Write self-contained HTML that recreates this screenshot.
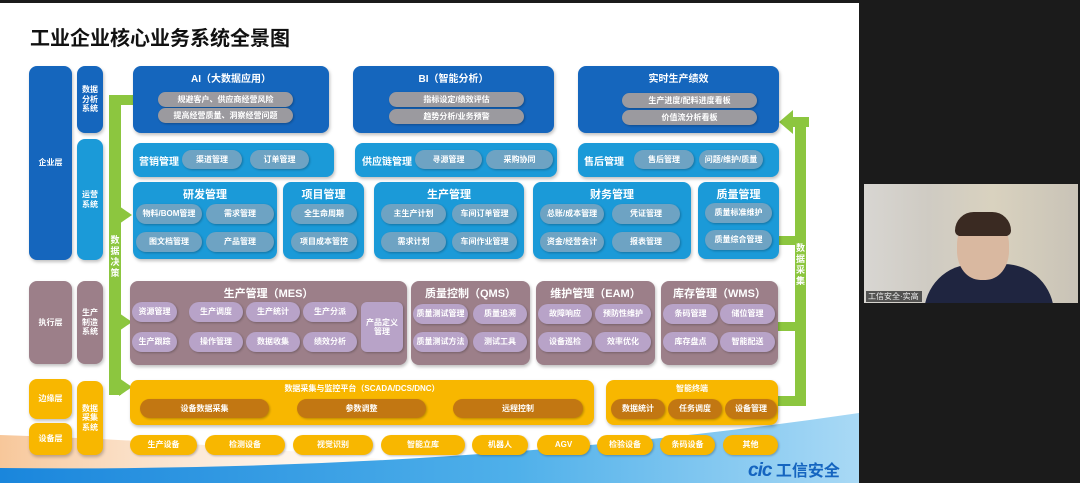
<!DOCTYPE html>
<html><head><meta charset="utf-8"><style>
*{margin:0;padding:0;box-sizing:border-box}
body{width:1080px;height:483px;overflow:hidden;background:#1b1b1b;font-family:"Liberation Sans","Noto Sans CJK SC",sans-serif;position:relative}
.a{position:absolute}
.b{position:absolute;border-radius:8px;box-shadow:1px 2px 3px rgba(0,0,0,.25)}
.p{position:absolute;border-radius:10px;color:#fff;font-size:8px;display:flex;align-items:center;justify-content:center;font-weight:bold;box-shadow:1px 1px 2px rgba(0,0,0,.25);text-align:center;line-height:1.15}
.t{position:absolute;color:#fff;font-weight:bold;font-size:10px;text-align:center}
.v{position:absolute;color:#fff;font-size:8px;font-weight:bold;display:flex;align-items:center;justify-content:center;text-align:center;line-height:1.2}
.db{background:#1566bd}.lb{background:#1b9ad8}.mv{background:#9c7f89}.yl{background:#f8b700}
.gp{background:#9b9a9f}.bp{background:#6ea3c3}.lp{background:#b8a3c8;color:#fff}.op{background:#c27712}.yp{background:#f8b700}
.g{position:absolute;background:#8cc63f}
</style></head><body>
<div class="a" style="left:0;top:3px;width:859px;height:480px;background:#fff;overflow:hidden">
<svg class="a" style="left:0;top:0" width="859" height="480">
<defs><linearGradient id="w" x1="0" y1="0" x2="1" y2="0"><stop offset="0" stop-color="#1a86dc"/><stop offset="0.6" stop-color="#4fb0ea"/><stop offset="1" stop-color="#a9d9f5"/></linearGradient>
<linearGradient id="o" x1="0" y1="0" x2="1" y2="0"><stop offset="0" stop-color="#f7c79a"/><stop offset="1" stop-color="#fff" stop-opacity="0"/></linearGradient></defs>
<path d="M0,432 Q250,440 520,470 L0,480Z" fill="url(#o)"/>
<path d="M0,465 Q450,470 859,410 L859,480 L0,480Z" fill="url(#w)"/>
</svg>
<div class="a" style="left:30px;top:19px;font-size:20px;font-weight:bold;color:#111">工业企业核心业务系统全景图</div>
<div class="a" style="left:748px;top:454px;font-size:19px;font-weight:bold;color:#1565c0;font-style:italic;letter-spacing:-1px">cic<span style="font-style:normal;font-size:16px;letter-spacing:0"> 工信安全</span></div>
</div>

<!-- left labels -->
<div class="b db v" style="left:29px;top:66px;width:43px;height:194px">企业层</div>
<div class="b db v" style="left:77px;top:66px;width:26px;height:67px">数据<br>分析<br>系统</div>
<div class="b lb v" style="left:77px;top:139px;width:26px;height:121px">运营<br>系统</div>
<div class="b mv v" style="left:29px;top:281px;width:43px;height:83px">执行层</div>
<div class="b mv v" style="left:77px;top:281px;width:26px;height:83px">生产<br>制造<br>系统</div>
<div class="b yl v" style="left:29px;top:379px;width:43px;height:40px">边缘层</div>
<div class="b yl v" style="left:29px;top:423px;width:43px;height:32px">设备层</div>
<div class="b yl v" style="left:77px;top:381px;width:26px;height:74px">数据<br>采集<br>系统</div>

<!-- left green -->
<div class="g" style="left:109px;top:95px;width:12px;height:300px"></div>
<div class="g" style="left:109px;top:95px;width:24px;height:10px"></div>
<svg class="a" style="left:119px;top:200px" width="16" height="200">
<polygon points="0,6 13,15 0,24" fill="#8cc63f"/><polygon points="0,113 13,122 0,131" fill="#8cc63f"/><polygon points="0,178 13,187 0,196" fill="#8cc63f"/></svg>
<div class="g" style="left:121px;top:383px;width:2px;height:8px"></div>
<div class="v" style="left:109px;top:232px;width:12px;height:50px;font-size:9px">数<br>据<br>决<br>策</div>

<!-- right green -->
<div class="g" style="left:795px;top:117px;width:11px;height:289px"></div>
<svg class="a" style="left:779px;top:110px" width="30" height="24"><polygon points="0,12 14,0 14,24" fill="#8cc63f"/><rect x="14" y="7" width="16" height="10" fill="#8cc63f"/></svg>
<div class="g" style="left:779px;top:236px;width:20px;height:9px"></div>
<div class="g" style="left:778px;top:322px;width:20px;height:9px"></div>
<div class="g" style="left:778px;top:396px;width:20px;height:10px"></div>
<div class="v" style="left:795px;top:240px;width:11px;height:50px;font-size:9px">数<br>据<br>采<br>集</div>

<!-- top row -->
<div class="b db" style="left:133px;top:66px;width:196px;height:67px"></div>
<div class="t" style="left:133px;top:70px;width:196px">AI（大数据应用）</div>
<div class="p gp" style="left:158px;top:92px;width:135px;height:15px">规避客户、供应商经营风险</div>
<div class="p gp" style="left:158px;top:108px;width:135px;height:15px">提高经营质量、洞察经营问题</div>
<div class="b db" style="left:353px;top:66px;width:201px;height:67px"></div>
<div class="t" style="left:353px;top:70px;width:201px">BI（智能分析）</div>
<div class="p gp" style="left:389px;top:92px;width:135px;height:15px">指标设定/绩效评估</div>
<div class="p gp" style="left:389px;top:109px;width:135px;height:15px">趋势分析/业务预警</div>
<div class="b db" style="left:578px;top:66px;width:201px;height:67px"></div>
<div class="t" style="left:578px;top:70px;width:201px">实时生产绩效</div>
<div class="p gp" style="left:622px;top:93px;width:135px;height:15px">生产进度/配料进度看板</div>
<div class="p gp" style="left:622px;top:110px;width:135px;height:15px">价值流分析看板</div>

<!-- row2 -->
<div class="b lb" style="left:133px;top:143px;width:201px;height:34px"></div>
<div class="t" style="left:139px;top:153px">营销管理</div>
<div class="p bp" style="left:182px;top:150px;width:60px;height:19px">渠道管理</div>
<div class="p bp" style="left:250px;top:150px;width:59px;height:19px">订单管理</div>
<div class="b lb" style="left:355px;top:143px;width:202px;height:34px"></div>
<div class="t" style="left:362px;top:153px">供应链管理</div>
<div class="p bp" style="left:415px;top:150px;width:67px;height:19px">寻源管理</div>
<div class="p bp" style="left:486px;top:150px;width:67px;height:19px">采购协同</div>
<div class="b lb" style="left:578px;top:143px;width:201px;height:34px"></div>
<div class="t" style="left:584px;top:153px">售后管理</div>
<div class="p bp" style="left:634px;top:150px;width:60px;height:19px">售后管理</div>
<div class="p bp" style="left:699px;top:150px;width:64px;height:19px">问题/维护/质量</div>

<!-- row3 -->
<div class="b lb" style="left:133px;top:182px;width:144px;height:77px"></div>
<div class="t" style="left:133px;top:186px;width:144px;font-size:11px">研发管理</div>
<div class="p bp" style="left:136px;top:204px;width:66px;height:20px">物料/BOM管理</div>
<div class="p bp" style="left:206px;top:204px;width:68px;height:20px">需求管理</div>
<div class="p bp" style="left:136px;top:232px;width:66px;height:20px">图文档管理</div>
<div class="p bp" style="left:206px;top:232px;width:68px;height:20px">产品管理</div>
<div class="b lb" style="left:283px;top:182px;width:81px;height:77px"></div>
<div class="t" style="left:283px;top:186px;width:81px;font-size:11px">项目管理</div>
<div class="p bp" style="left:291px;top:204px;width:66px;height:20px">全生命周期</div>
<div class="p bp" style="left:291px;top:232px;width:66px;height:20px">项目成本管控</div>
<div class="b lb" style="left:374px;top:182px;width:150px;height:77px"></div>
<div class="t" style="left:374px;top:186px;width:150px;font-size:11px">生产管理</div>
<div class="p bp" style="left:381px;top:204px;width:65px;height:20px">主生产计划</div>
<div class="p bp" style="left:452px;top:204px;width:65px;height:20px">车间订单管理</div>
<div class="p bp" style="left:381px;top:232px;width:65px;height:20px">需求计划</div>
<div class="p bp" style="left:452px;top:232px;width:65px;height:20px">车间作业管理</div>
<div class="b lb" style="left:533px;top:182px;width:158px;height:77px"></div>
<div class="t" style="left:533px;top:186px;width:158px;font-size:11px">财务管理</div>
<div class="p bp" style="left:540px;top:204px;width:64px;height:20px">总账/成本管理</div>
<div class="p bp" style="left:612px;top:204px;width:68px;height:20px">凭证管理</div>
<div class="p bp" style="left:540px;top:232px;width:64px;height:20px">资金/经营会计</div>
<div class="p bp" style="left:612px;top:232px;width:68px;height:20px">报表管理</div>
<div class="b lb" style="left:698px;top:182px;width:81px;height:77px"></div>
<div class="t" style="left:698px;top:186px;width:81px;font-size:11px">质量管理</div>
<div class="p bp" style="left:705px;top:203px;width:67px;height:20px">质量标准维护</div>
<div class="p bp" style="left:705px;top:230px;width:67px;height:20px">质量综合管理</div>

<!-- MES row -->
<div class="b mv" style="left:130px;top:281px;width:277px;height:84px"></div>
<div class="t" style="left:130px;top:285px;width:277px;font-size:11px">生产管理（MES）</div>
<div class="p lp" style="left:132px;top:302px;width:45px;height:20px">资源管理</div>
<div class="p lp" style="left:189px;top:302px;width:54px;height:20px">生产调度</div>
<div class="p lp" style="left:246px;top:302px;width:54px;height:20px">生产统计</div>
<div class="p lp" style="left:303px;top:302px;width:54px;height:20px">生产分派</div>
<div class="p lp" style="left:132px;top:332px;width:45px;height:20px">生产跟踪</div>
<div class="p lp" style="left:189px;top:332px;width:54px;height:20px">操作管理</div>
<div class="p lp" style="left:246px;top:332px;width:54px;height:20px">数据收集</div>
<div class="p lp" style="left:303px;top:332px;width:54px;height:20px">绩效分析</div>
<div class="p lp" style="left:361px;top:302px;width:42px;height:50px;border-radius:6px">产品定义<br>管理</div>
<div class="b mv" style="left:411px;top:281px;width:119px;height:84px"></div>
<div class="t" style="left:411px;top:285px;width:119px;font-size:11px">质量控制（QMS）</div>
<div class="p lp" style="left:413px;top:304px;width:55px;height:20px">质量测试管理</div>
<div class="p lp" style="left:473px;top:304px;width:54px;height:20px">质量追溯</div>
<div class="p lp" style="left:413px;top:332px;width:55px;height:20px">质量测试方法</div>
<div class="p lp" style="left:473px;top:332px;width:54px;height:20px">测试工具</div>
<div class="b mv" style="left:536px;top:281px;width:119px;height:84px"></div>
<div class="t" style="left:536px;top:285px;width:119px;font-size:11px">维护管理（EAM）</div>
<div class="p lp" style="left:538px;top:304px;width:54px;height:20px">故障响应</div>
<div class="p lp" style="left:595px;top:304px;width:56px;height:20px">预防性维护</div>
<div class="p lp" style="left:538px;top:332px;width:54px;height:20px">设备巡检</div>
<div class="p lp" style="left:595px;top:332px;width:56px;height:20px">效率优化</div>
<div class="b mv" style="left:661px;top:281px;width:117px;height:84px"></div>
<div class="t" style="left:661px;top:285px;width:117px;font-size:11px">库存管理（WMS）</div>
<div class="p lp" style="left:663px;top:304px;width:55px;height:20px">条码管理</div>
<div class="p lp" style="left:720px;top:304px;width:55px;height:20px">储位管理</div>
<div class="p lp" style="left:663px;top:332px;width:55px;height:20px">库存盘点</div>
<div class="p lp" style="left:720px;top:332px;width:55px;height:20px">智能配送</div>

<!-- yellow -->
<div class="b yl" style="left:130px;top:380px;width:464px;height:45px"></div>
<div class="t" style="left:130px;top:383px;width:464px;font-size:8px">数据采集与监控平台（SCADA/DCS/DNC）</div>
<div class="p op" style="left:140px;top:399px;width:129px;height:19px">设备数据采集</div>
<div class="p op" style="left:297px;top:399px;width:129px;height:19px">参数调整</div>
<div class="p op" style="left:453px;top:399px;width:130px;height:19px">远程控制</div>
<div class="b yl" style="left:606px;top:380px;width:172px;height:45px"></div>
<div class="t" style="left:606px;top:383px;width:172px;font-size:8px">智能终端</div>
<div class="p op" style="left:611px;top:399px;width:54px;height:20px">数据统计</div>
<div class="p op" style="left:668px;top:399px;width:54px;height:20px">任务调度</div>
<div class="p op" style="left:725px;top:399px;width:52px;height:20px">设备管理</div>

<div class="p yp" style="left:130px;top:435px;width:67px;height:20px">生产设备</div>
<div class="p yp" style="left:205px;top:435px;width:80px;height:20px">检测设备</div>
<div class="p yp" style="left:293px;top:435px;width:80px;height:20px">视觉识别</div>
<div class="p yp" style="left:381px;top:435px;width:84px;height:20px">智能立库</div>
<div class="p yp" style="left:472px;top:435px;width:56px;height:20px">机器人</div>
<div class="p yp" style="left:537px;top:435px;width:53px;height:20px">AGV</div>
<div class="p yp" style="left:597px;top:435px;width:56px;height:20px">检验设备</div>
<div class="p yp" style="left:660px;top:435px;width:55px;height:20px">条码设备</div>
<div class="p yp" style="left:723px;top:435px;width:55px;height:20px">其他</div>

<!-- webcam -->
<div class="a" style="left:864px;top:184px;width:214px;height:119px;background:linear-gradient(90deg,#d8d6d2 0%,#cfcbc3 30%,#d9d2bf 60%,#c9c3b7 100%);overflow:hidden">
<div class="a" style="left:60px;top:80px;width:130px;height:50px;background:#1f2540;border-radius:60px 60px 0 0"></div>
<div class="a" style="left:93px;top:32px;width:52px;height:64px;background:#d9b8a0;border-radius:45%"></div>
<div class="a" style="left:91px;top:28px;width:56px;height:24px;background:#3a2a22;border-radius:28px 28px 8px 8px"></div>
<div class="a" style="left:2px;top:107px;width:56px;height:11px;background:rgba(40,40,40,.75);color:#eee;font-size:8px;line-height:11px;padding-left:2px">工信安全·实高</div>
</div>
</body></html>
